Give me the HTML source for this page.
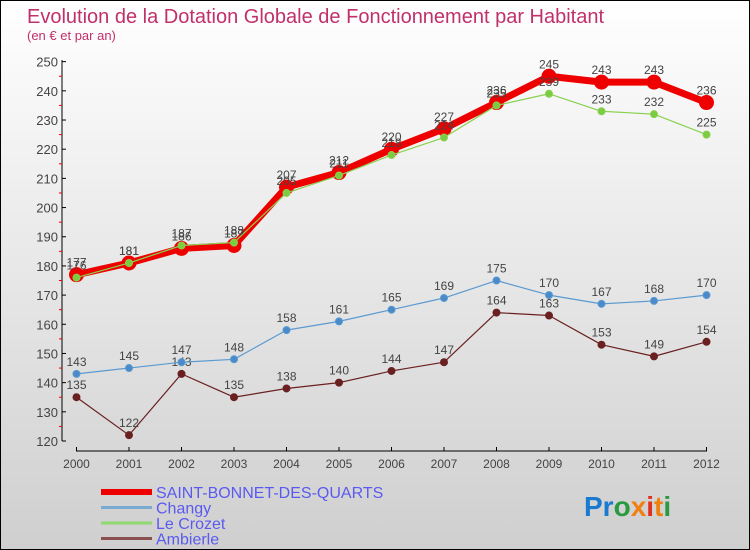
<!DOCTYPE html>
<html><head><meta charset="utf-8"><style>
body{margin:0}
#c{position:relative;width:748px;height:548px;border:1px solid #000;background:linear-gradient(#ffffff,#cfcfcf);font-family:"Liberation Sans",sans-serif;overflow:hidden}
</style></head><body>
<div id="c">
<svg width="748" height="548" id="s" style="position:absolute;left:0;top:0">
<text x="26" y="22" font-size="20" fill="#c0306a">Evolution de la Dotation Globale de Fonctionnement par Habitant</text>
<text x="26" y="39" font-size="13" fill="#c0306a">(en € et par an)</text>
<g id="axes"></g><g id="series"></g><g id="legend"></g>
<text x="583" y="515" font-size="28" font-weight="bold"><tspan fill="#1a7ad0">Pr</tspan><tspan fill="#2a9a40">o</tspan><tspan fill="#f08010">x</tspan><tspan fill="#e03020">i</tspan><tspan fill="#f08010">t</tspan><tspan fill="#2a9a40">i</tspan></text>
</svg></div>
<script>
const years=[2000,2001,2002,2003,2004,2005,2006,2007,2008,2009,2010,2011,2012];
const yTicks=[120,130,140,150,160,170,180,190,200,210,220,230,240,250];
const stBonnet=[177,181,186,187,207,212,220,227,236,245,243,243,236];
const changy=[143,145,147,148,158,161,165,169,175,170,167,168,170];
const leCrozet=[176,181,187,188,205,211,218,224,235,239,233,232,225];
const ambierle=[135,122,143,135,138,140,144,147,164,163,153,149,154];
const NS="http://www.w3.org/2000/svg";
function X(i){return 75.5+i*52.5;}
function Y(v){return 440-(v-120)*2.918;}
function mk(p,tag,a){const e=document.createElementNS(NS,tag);for(const k in a)e.setAttribute(k,a[k]);p.appendChild(e);return e;}
const ax=document.getElementById('axes');
let e=mk(ax,'line',{x1:61,y1:59,x2:61,y2:440,stroke:'#000'});


e=mk(ax,'line',{x1:75,y1:450,x2:706,y2:450,stroke:'#000'});


yTicks.forEach(v=>{
  mk(ax,'line',{x1:61,y1:Y(v),x2:65,y2:Y(v),stroke:'#000'});
  if(v<250)mk(ax,'line',{x1:58,y1:Y(v+5),x2:61,y2:Y(v+5),stroke:'#e00'});
  const t=mk(ax,'text',{x:57,y:Y(v)+5,'font-size':13,fill:'#444','text-anchor':'end'});
  t.textContent=v;
  
  
});
years.forEach((yr,i)=>{
  mk(ax,'line',{x1:X(i),y1:446,x2:X(i),y2:450,stroke:'#000'});
  const t=mk(ax,'text',{x:X(i),y:467,'font-size':12,fill:'#444','text-anchor':'middle'});
  t.textContent=yr;
  
  
});
const sg=document.getElementById('series');
function draw(data,color,w,r,fill,name,labels){
  const pl=mk(sg,'polyline',{points:data.map((v,i)=>X(i)+','+Y(v)).join(' '),fill:'none',stroke:color,'stroke-width':w,'stroke-linejoin':'round'});
  
  
  data.forEach((v,i)=>{
    const c=mk(sg,'circle',{cx:X(i),cy:Y(v),r:r,fill:fill,stroke:color,'stroke-width':1});
    
    
    if(labels){const t=mk(sg,'text',{x:X(i),y:Y(v)-8,'font-size':12,fill:'#444','text-anchor':'middle'});
    t.textContent=v;
    
    }
  });
}
draw(ambierle,'#6a2020',1.2,3.5,'#6a2020','ambierle',true);
draw(changy,'#5a9ad0',1.2,3.5,'#4a8ac8','changy',true);
draw(stBonnet,'#ee0000',7,7,'#ee0000','saint-bonnet',true);
draw(leCrozet,'#8ad050',1.2,3.5,'#7acc40','le-crozet',true);
const lg=document.getElementById('legend');
const leg=[['SAINT-BONNET-DES-QUARTS','#ee0000',6],['Changy','#7aaad0',3],['Le Crozet','#90d870',3],['Ambierle','#8a5050',3]];
leg.forEach((l,i)=>{
  const y=491+i*15.5;
  const ln=mk(lg,'line',{x1:100,y1:y,x2:151,y2:y,stroke:l[1],'stroke-width':l[2]});
  
  
  const t=mk(lg,'text',{x:155,y:y+6,'font-size':16,fill:'#5a5af0'});
  t.textContent=l[0];
  
  
});
</script>
</body></html>
